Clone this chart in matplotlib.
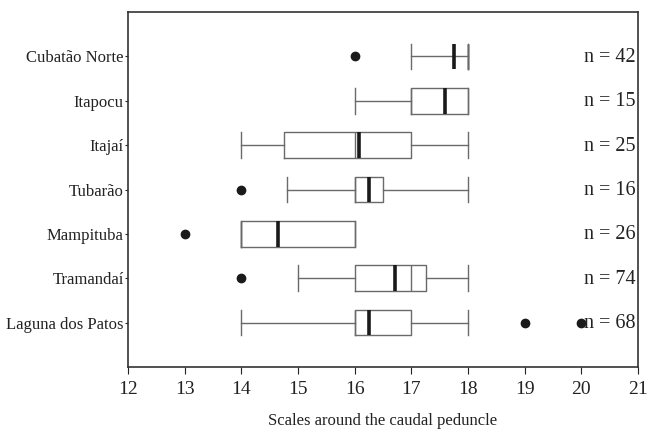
import matplotlib
matplotlib.use("Agg")
from matplotlib import pyplot as plt
from matplotlib import transforms

plt.rcParams['font.family'] = ['Liberation Serif', 'DejaVu Serif']

# data
sites = ['Cubatão Norte', 'Itapocu', 'Itajaí', 'Tubarão', 'Mampituba',
         'Tramandaí', 'Laguna dos Patos']
n_counts = [42, 15, 25, 16, 26, 74, 68]
whis_lo = [17, 16, 14, 14.8, 14, 15, 14]
q1 = [18, 17, 14.75, 16, 14, 16, 16]
medians = [18, 17, 16, 16, 14, 17, 16]
q3 = [18, 18, 17, 16.5, 16, 17.25, 17]
whis_hi = [18, 18, 18, 18, 16, 18, 18]
means = [17.75, 17.6, 16.07, 16.25, 14.65, 16.72, 16.25]
outliers = [[16], [], [], [14], [13], [14], [19, 20]]

stats = []
for i in range(len(sites)):
    stats.append(dict(label=sites[i], whislo=whis_lo[i], q1=q1[i], med=medians[i],
                      q3=q3[i], whishi=whis_hi[i], mean=means[i], fliers=outliers[i]))

fig = plt.figure(figsize=(6.47, 4.30), dpi=100)
ax = fig.add_axes([128 / 647, 1 - 367 / 430, 510 / 647, 355 / 430])

positions = list(range(len(sites), 0, -1))
grey = '#6a6a6a'
ax.bxp(stats, positions=positions, orientation='horizontal', widths=0.58,
       capwidths=0.58, showmeans=True, meanline=True,
       boxprops=dict(color=grey, linewidth=1.0),
       whiskerprops=dict(color=grey, linewidth=1.0),
       capprops=dict(color=grey, linewidth=1.0),
       medianprops=dict(color=grey, linewidth=1.0),
       meanprops=dict(color='#1a1a1a', linewidth=2.6, linestyle='-'),
       flierprops=dict(marker='o', markerfacecolor='#1a1a1a',
                       markeredgecolor='#1a1a1a', markersize=6))

trans = transforms.blended_transform_factory(ax.transAxes, ax.transData)
for pos, n in zip(positions, n_counts):
    ax.text(0.996, pos - 0.02, f'n = {n}', transform=trans, ha='right',
            va='center', fontsize=14.5, color='#222222')

ax.set_xlim(12, 21)
ax.set_ylim(0, len(sites) + 1)
ax.set_xticks(range(12, 22))
ax.set_yticks(positions)
ax.set_yticklabels(sites)
ax.tick_params(axis='x', direction='out', length=5, labelsize=14, colors='#222222', pad=5)
ax.tick_params(axis='y', direction='out', length=2, labelsize=12, colors='#222222', pad=1)
for sp in ax.spines.values():
    sp.set_color('#333333')
    sp.set_linewidth(1.2)
ax.set_xlabel('Scales around the caudal peduncle', fontsize=12, color='#222222')
ax.xaxis.set_label_coords(0.5, -0.13)

fig.savefig('out.png', dpi=100)
